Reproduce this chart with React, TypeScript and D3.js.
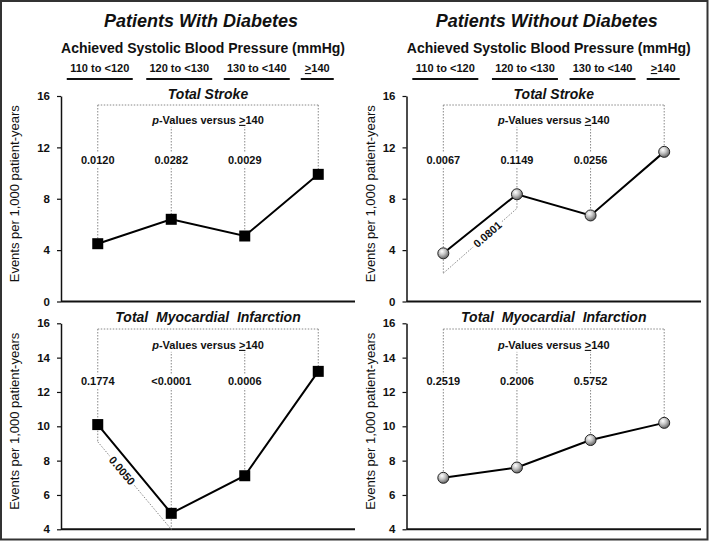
import React, { useEffect, useRef } from "react";
import * as d3 from "d3";

// categories of achieved systolic BP
const categories = ["110 to <120", "120 to <130", "130 to <140", ">140"];
const groupTitles = ["Patients With Diabetes", "Patients Without Diabetes"];
const outcomeTitles = ["Total Stroke", "Total  Myocardial  Infarction"];

// events per 1,000 patient-years
const strokeWith = [4.5, 6.4, 5.1, 9.9];
const strokeWithout = [3.75, 8.35, 6.7, 11.65];
const miWith = [10.1, 4.93, 7.12, 13.2];
const miWithout = [7.0, 7.6, 9.2, 10.2];

// p-values versus >=140
const pStrokeWith = ["0.0120", "0.0282", "0.0029"];
const pStrokeWithout = ["0.0067", "0.1149", "0.0256"];
const pMiWith = ["0.1774", "<0.0001", "0.0006"];
const pMiWithout = ["0.2519", "0.2006", "0.5752"];

// pairwise comparison between first two groups
const pairStrokeWithout = { p: "0.0801", low: [2.2, 7.25], at: 0.6 };
const pairMiWith = { p: "0.0050", low: [9.1, 4.0], at: 0.33 };

const strokeTicks = [0, 4, 8, 12, 16];
const miTicks = [4, 6, 8, 10, 12, 14, 16];

const FONT = "'Liberation Sans', Arial, sans-serif";
const W = 709;
const H = 542;
const cols = [
  [61, 355],
  [406.5, 701],
];
const rows = [
  { range: [301.5, 96], bracket: 105, pLabel: 120, pY: 160, title: 99 },
  { range: [529.3, 323.3], bracket: 329, pLabel: 345, pY: 381.5, title: 321.5 },
];
const headerShift = [2, 8, 12, -1];
const yLabelX = [19, 375];

const panels = [
  { col: 0, row: 0, values: strokeWith, pvals: pStrokeWith, ticks: strokeTicks, title: outcomeTitles[0], ball: false, pair: null },
  { col: 1, row: 0, values: strokeWithout, pvals: pStrokeWithout, ticks: strokeTicks, title: outcomeTitles[0], ball: true, pair: pairStrokeWithout },
  { col: 0, row: 1, values: miWith, pvals: pMiWith, ticks: miTicks, title: outcomeTitles[1], ball: false, pair: pairMiWith },
  { col: 1, row: 1, values: miWithout, pvals: pMiWithout, ticks: miTicks, title: outcomeTitles[1], ball: true, pair: null },
];

const App = () => {
  const ref = useRef<SVGSVGElement>(null);

  useEffect(() => {
    if (!ref.current) return;
    const svg = d3.select(ref.current);
    svg.selectAll("*").remove();

    const defs = svg.append("defs");
    const grad = defs.append("radialGradient").attr("id", "ball").attr("cx", "38%").attr("cy", "32%").attr("r", "70%");
    grad.append("stop").attr("offset", "0%").attr("stop-color", "#ffffff");
    grad.append("stop").attr("offset", "45%").attr("stop-color", "#c4c4c4");
    grad.append("stop").attr("offset", "100%").attr("stop-color", "#606060");

    svg.append("rect").attr("width", W).attr("height", H).attr("fill", "white");
    svg
      .append("rect")
      .attr("x", 1)
      .attr("y", 1)
      .attr("width", 706.5)
      .attr("height", 538.5)
      .attr("fill", "none")
      .attr("stroke", "#333")
      .attr("stroke-width", 2);

    const dotted = (g: any, x1: number, y1: number, x2: number, y2: number) =>
      g
        .append("line")
        .attr("x1", x1)
        .attr("y1", y1)
        .attr("x2", x2)
        .attr("y2", y2)
        .attr("stroke", "#888")
        .attr("stroke-width", 1)
        .attr("stroke-dasharray", "1.5 1.5");

    // text with a white box behind, so the dotted lines look broken
    const bgLabel = (g: any, x: number, y: number, angle: number, build: (t: any) => void) => {
      const lg = g.append("g").attr("transform", `translate(${x},${y}) rotate(${angle})`);
      const rect = lg.append("rect").attr("fill", "white");
      const t = lg
        .append("text")
        .attr("text-anchor", "middle")
        .attr("dy", "0.35em")
        .attr("font-family", FONT)
        .attr("font-size", 11)
        .attr("font-weight", "bold")
        .attr("fill", "#111");
      build(t);
      const b = t.node().getBBox();
      rect.attr("x", b.x - 2).attr("y", b.y - 1).attr("width", b.width + 4).attr("height", b.height + 2);
    };

    const geLabel = (t: any, num: string) => {
      t.append("tspan").attr("text-decoration", "underline").text(">");
      t.append("tspan").text(num);
    };

    // column headers
    cols.forEach((c, ci) => {
      const x = d3.scalePoint<string>().domain(categories).range(c as [number, number]).padding(0.5);
      const mid = (x(categories[0])! + x(categories[3])!) / 2;
      const hg = svg.append("g").attr("font-family", FONT).attr("fill", "#111");
      hg.append("text")
        .attr("x", mid - 7)
        .attr("y", 27)
        .attr("text-anchor", "middle")
        .attr("font-size", 18)
        .attr("font-weight", "bold")
        .attr("font-style", "italic")
        .text(groupTitles[ci]);
      hg.append("text")
        .attr("x", mid - 5)
        .attr("y", 53)
        .attr("text-anchor", "middle")
        .attr("font-size", 14)
        .attr("font-weight", "bold")
        .text("Achieved Systolic Blood Pressure (mmHg)");
      categories.forEach((cat, i) => {
        const cx = x(cat)! + headerShift[i];
        const t = hg
          .append("text")
          .attr("x", cx)
          .attr("y", 72)
          .attr("text-anchor", "middle")
          .attr("font-size", 11)
          .attr("font-weight", "bold");
        if (cat.startsWith(">")) geLabel(t, cat.slice(1));
        else t.text(cat);
        const w = cat.length > 5 ? 66 : 33;
        hg.append("line")
          .attr("x1", cx - w / 2)
          .attr("x2", cx + w / 2)
          .attr("y1", 79)
          .attr("y2", 79)
          .attr("stroke", "#111")
          .attr("stroke-width", 2);
      });
    });

    panels.forEach((p) => {
      const r = rows[p.row];
      const c = cols[p.col];
      const g = svg.append("g");
      const x = d3.scalePoint<string>().domain(categories).range(c as [number, number]).padding(0.5);
      const y = d3.scaleLinear().domain(d3.extent(p.ticks) as [number, number]).range(r.range);
      const xs = categories.map((d) => x(d)!);
      const mid = (xs[0] + xs[3]) / 2;

      // axes
      const ax = g
        .append("g")
        .attr("transform", `translate(${c[0]},0)`)
        .call(d3.axisLeft(y).tickValues(p.ticks).tickSize(4).tickPadding(7).tickSizeOuter(0));
      ax.select(".domain").attr("stroke", "#111").attr("stroke-width", 1.5);
      ax.selectAll(".tick line").attr("stroke", "#111").attr("stroke-width", 1.2);
      ax.selectAll(".tick text")
        .attr("font-family", FONT)
        .attr("font-size", 11.5)
        .attr("font-weight", "bold")
        .attr("fill", "#111");
      g.append("line")
        .attr("x1", c[0])
        .attr("x2", c[1])
        .attr("y1", y(p.ticks[0]))
        .attr("y2", y(p.ticks[0]))
        .attr("stroke", "#111")
        .attr("stroke-width", 2);

      g.append("text")
        .attr("transform", `translate(${yLabelX[p.col]},${(r.range[0] + r.range[1]) / 2 - 5}) rotate(-90)`)
        .attr("text-anchor", "middle")
        .attr("font-family", FONT)
        .attr("font-size", 13)
        .attr("fill", "#111")
        .text("Events per 1,000 patient-years");

      // p-value bracket
      dotted(g, xs[0], r.bracket, xs[3], r.bracket);
      xs.forEach((px, i) => {
        const top = i === 0 || i === 3 ? r.bracket : r.pLabel;
        dotted(g, px, top, px, y(p.values[i]));
      });

      if (p.pair) {
        const a = { x: xs[0], y: y(p.pair.low[0]) };
        const b = { x: xs[1], y: y(p.pair.low[1]) };
        dotted(g, a.x, y(p.values[0]), a.x, a.y);
        dotted(g, b.x, y(p.values[1]), b.x, b.y);
        dotted(g, a.x, a.y, b.x, b.y);
        const ang = (Math.atan2(b.y - a.y, b.x - a.x) * 180) / Math.PI;
        const lx = a.x + (b.x - a.x) * p.pair.at;
        const ly = a.y + (b.y - a.y) * p.pair.at;
        bgLabel(g, lx, ly, ang, (t) => t.text(p.pair!.p));
      }

      bgLabel(g, mid, r.pLabel, 0, (t) => {
        t.append("tspan").attr("font-style", "italic").text("p");
        t.append("tspan").text("-Values versus ");
        geLabel(t, "140");
      });
      p.pvals.forEach((pv, i) => bgLabel(g, xs[i], r.pY, 0, (t) => t.text(pv)));

      g.append("text")
        .attr("x", mid)
        .attr("y", r.title)
        .attr("text-anchor", "middle")
        .attr("font-family", FONT)
        .attr("font-size", 14)
        .attr("font-weight", "bold")
        .attr("font-style", "italic")
        .attr("fill", "#111")
        .attr("xml:space", "preserve")
        .style("white-space", "pre")
        .text(p.title);

      // data line + markers
      const line = d3
        .line<number>()
        .x((_, i) => xs[i])
        .y((d) => y(d));
      g.append("path").attr("d", line(p.values)).attr("fill", "none").attr("stroke", "#000").attr("stroke-width", 2);

      if (p.ball) {
        g.selectAll(".pt")
          .data(p.values)
          .join("circle")
          .attr("cx", (_, i) => xs[i])
          .attr("cy", (d) => y(d))
          .attr("r", 5.5)
          .attr("fill", "url(#ball)")
          .attr("stroke", "#222")
          .attr("stroke-width", 1);
      } else {
        g.selectAll(".pt")
          .data(p.values)
          .join("rect")
          .attr("x", (_, i) => xs[i] - 5.5)
          .attr("y", (d) => y(d) - 5.5)
          .attr("width", 11)
          .attr("height", 11)
          .attr("fill", "#000");
      }
    });
  }, []);

  return (
    <svg
      ref={ref}
      width={W}
      height={H}
      style={{ position: "absolute", left: 0, top: 0, display: "block" }}
    />
  );
};

export default App;
